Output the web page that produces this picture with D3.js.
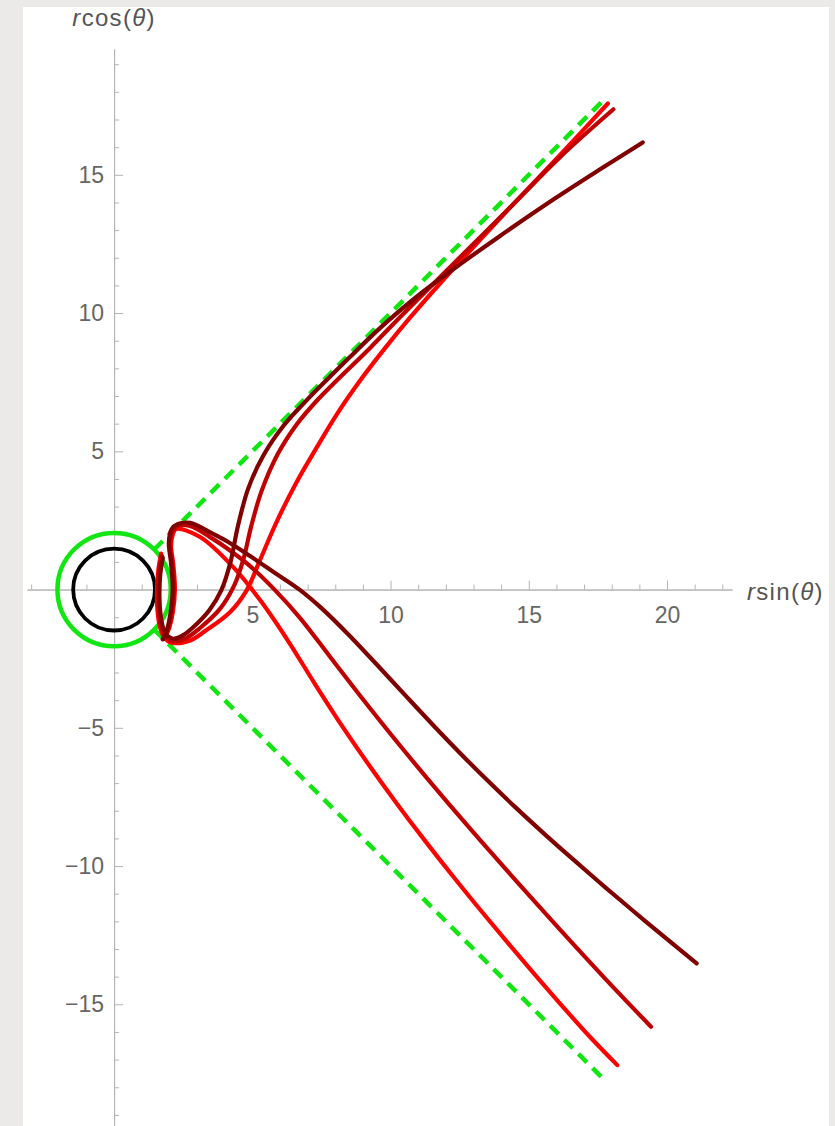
<!DOCTYPE html>
<meta charset="utf-8">
<style>
body { margin:0; background:#ebeae8; }
svg { display:block; }
.axis path, .axis line { stroke:#b4b4b4; stroke-width:1; }
.axis text { font-family:"Liberation Sans", Arial, sans-serif; font-size:23px; fill:#666; }
.lab { font-family:"Liberation Sans", Arial, sans-serif; font-size:24px; fill:#555; letter-spacing:1.3px; }
</style>
<body>
<svg width="835" height="1126" id="vis"></svg>
<script src="https://cdnjs.cloudflare.com/ajax/libs/d3/7.8.5/d3.min.js"></script>
<script>
// tick values
var xTicks = [5, 10, 15, 20];
var yTicks = [-15, -10, -5, 5, 10, 15];

// circles: radius, colour
var circles = [
  {r: 2.05, color: "#12e612", w: 4.5},
  {r: 1.48, color: "#000000", w: 3.8}
];

// asymptote lines
var dashUpper = [[1.45, 1.45], [17.75, 17.75]];
var dashLower = [[1.45, -1.45], [17.75, -17.75]];

// trajectories ending in the upper right
var brightUp = [[1.70,1.30],[1.60,0.70],[1.55,-0.02],[1.57,-0.76],[1.66,-1.35],[1.82,-1.74],[2.08,-1.92],
  [2.75,-1.84],[3.29,-1.50],[4.20,-0.81],[4.80,-0.02],[5.25,1.00],[5.88,2.45],[6.61,3.90],[7.33,5.14],
  [8.05,6.33],[8.90,7.56],[9.80,8.73],[10.71,9.84],[11.79,11.07],[13.06,12.45],[14.43,13.93],
  [16.13,15.72],[17.86,17.58]];
var mediumUp = [[1.73,1.22],[1.63,0.62],[1.60,-0.10],[1.63,-0.83],[1.72,-1.38],[1.88,-1.72],[2.12,-1.86],
  [2.60,-1.76],[3.11,-1.39],[3.83,-0.70],[4.35,0.16],[4.68,1.10],[4.95,2.25],[5.33,3.55],[5.92,4.90],
  [6.61,5.98],[7.33,6.83],[8.05,7.56],[9.26,8.74],[10.34,9.85],[12.15,11.66],[14.43,13.93],
  [16.13,15.64],[18.06,17.37]];
var darkUp = [[1.76,1.15],[1.67,0.55],[1.64,-0.18],[1.68,-0.90],[1.78,-1.40],[1.94,-1.68],[2.15,-1.78],
  [2.50,-1.65],[2.93,-1.30],[3.45,-0.74],[3.88,-0.02],[4.20,0.95],[4.48,2.30],[4.85,3.65],[5.40,4.85],
  [6.15,5.95],[6.97,6.85],[7.69,7.58],[8.54,8.42],[9.26,9.12],[9.98,9.78],[11.07,10.69],[12.51,11.76],
  [13.96,12.79],[15.97,14.16],[17.58,15.20],[19.12,16.17]];

// trajectories ending in the lower right
var brightDown = [[1.80,-1.78],[1.96,-1.48],[2.12,-0.84],[2.20,0.00],[2.14,0.92],[2.06,1.58],[2.12,1.98],
  [2.24,2.19],[3.11,1.90],[4.31,0.81],[5.28,-0.38],[6.25,-1.79],[7.25,-3.39],[8.25,-4.94],[9.25,-6.39],
  [10.25,-7.77],[11.25,-9.09],[12.25,-10.36],[13.25,-11.59],[14.25,-12.79],[15.25,-13.96],[16.25,-15.11],
  [17.25,-16.22],[18.20,-17.20]];
var mediumDown = [[1.78,-1.79],[1.93,-1.50],[2.08,-0.85],[2.16,0.02],[2.10,0.96],[2.02,1.66],[2.10,2.10],
  [2.28,2.30],[2.75,2.30],[3.53,1.86],[4.13,1.46],[4.92,0.85],[5.82,-0.02],[6.73,-1.03],[7.81,-2.43],
  [8.90,-3.84],[10.34,-5.64],[11.79,-7.38],[13.24,-9.06],[14.68,-10.69],[16.13,-12.30],[17.76,-14.07],
  [19.42,-15.81]];
var darkDown = [[1.76,-1.80],[1.90,-1.50],[2.04,-0.85],[2.12,0.02],[2.06,0.96],[1.98,1.70],[2.08,2.18],
  [2.31,2.37],[2.75,2.41],[3.53,2.04],[4.13,1.72],[4.92,1.21],[5.82,0.60],[6.73,-0.02],[7.5,-0.67],
  [8.5,-1.65],[9.5,-2.71],[10.5,-3.79],[11.5,-4.86],[12.5,-5.90],[13.5,-6.90],[14.5,-7.86],[15.5,-8.78],
  [16.5,-9.67],[17.5,-10.54],[18.5,-11.39],[19.2,-11.98],[21.07,-13.52]];

var svg = d3.select("svg");

svg.append("rect").attr("x", 23).attr("y", 7).attr("width", 806).attr("height", 1130).attr("fill", "#fff");

var x = d3.scaleLinear().domain([-3.15, 22.35]).range([27, 732]),
    y = d3.scaleLinear().domain([19.55, -19.6]).range([49, 1131.5]);

var g = svg.append("g");

// minor ticks
g.append("g").attr("class", "axis")
  .attr("transform", "translate(0," + y(0) + ")")
  .call(d3.axisBottom(x).tickValues(d3.range(-3, 23).filter(function(d){ return d != 0 && d % 5 != 0; }))
    .tickSize(-5).tickSizeOuter(0).tickFormat(""));
g.append("g").attr("class", "axis")
  .attr("transform", "translate(" + x(0) + ",0)")
  .call(d3.axisLeft(y).tickValues(d3.range(-19, 20).filter(function(d){ return d != 0 && d % 5 != 0; }))
    .tickSize(-5).tickSizeOuter(0).tickFormat(""));

// major ticks
g.append("g").attr("class", "axis")
  .attr("transform", "translate(0," + y(0) + ")")
  .call(d3.axisBottom(x).tickValues(xTicks).tickSize(-9).tickSizeOuter(0).tickPadding(17));
g.append("g").attr("class", "axis")
  .attr("transform", "translate(" + x(0) + ",0)")
  .call(d3.axisLeft(y).tickValues(yTicks).tickSize(-9).tickSizeOuter(0).tickPadding(10));

// axis labels
var ly = svg.append("text").attr("class", "lab").attr("x", x(0)).attr("y", 26).attr("text-anchor", "middle");
ly.append("tspan").style("font-style", "italic").text("r");
ly.append("tspan").text("cos(");
ly.append("tspan").style("font-style", "italic").text("θ");
ly.append("tspan").text(")");

var lx = svg.append("text").attr("class", "lab").attr("x", 747).attr("y", 600);
lx.append("tspan").style("font-style", "italic").text("r");
lx.append("tspan").text("sin(");
lx.append("tspan").style("font-style", "italic").text("θ");
lx.append("tspan").text(")");

// circles
g.selectAll("circle.ring").data(circles).enter().append("circle")
  .attr("class", "ring")
  .attr("cx", x(0)).attr("cy", y(0))
  .attr("r", function(d){ return x(d.r) - x(0); })
  .attr("fill", "none")
  .attr("stroke", function(d){ return d.color; })
  .attr("stroke-width", function(d){ return d.w; });

var line = d3.line()
  .x(function(d){ return x(d[0]); })
  .y(function(d){ return y(d[1]); })
  .curve(d3.curveCatmullRom.alpha(0.5));

// dashed asymptotes
[dashUpper, dashLower].forEach(function(d){
  g.append("path").attr("d", line(d))
    .attr("fill", "none").attr("stroke", "#12e612").attr("stroke-width", 4.5)
    .attr("stroke-dasharray", "12,8");
});

// trajectories
var curves = [
  {pts: brightUp, color: "#ff0000"},
  {pts: brightDown, color: "#ff0000"},
  {pts: mediumUp, color: "#c00000"},
  {pts: mediumDown, color: "#c00000"},
  {pts: darkUp, color: "#800000"},
  {pts: darkDown, color: "#800000"}
];
g.selectAll("path.traj").data(curves).enter().append("path")
  .attr("class", "traj")
  .attr("d", function(d){ return line(d.pts); })
  .attr("fill", "none")
  .attr("stroke", function(d){ return d.color; })
  .attr("stroke-width", 4.2)
  .attr("stroke-linecap", "round")
  .attr("stroke-linejoin", "round");
</script>
</body>
